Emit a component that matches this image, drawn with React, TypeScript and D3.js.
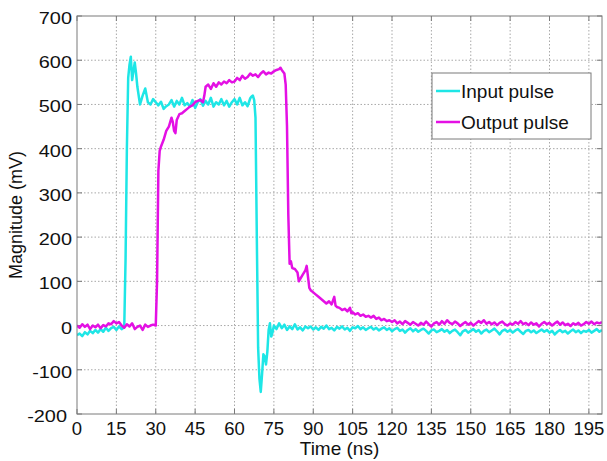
import React from "react";
import * as d3 from "d3";

const WIDTH = 607;
const HEIGHT = 461;

const xTicks = [0, 15, 30, 45, 60, 75, 90, 105, 120, 135, 150, 165, 180, 195];
const yTicks = [-200, -100, 0, 100, 200, 300, 400, 500, 600, 700];

const seriesNames = ["Input pulse", "Output pulse"];
const seriesColors = ["#1ee6e6", "#e410e4"];

// [time (ns), magnitude (mV)]
const inputPulse: [number, number][] = [
  [0, -22], [1, -18], [2, -24], [3, -15], [4, -20], [5, -12], [6, -17], [7, -10], [8, -16], [9, -8],
  [10, -14], [11, -5], [12, -12], [13, -6], [14, -3], [15, -10], [16, -2], [17, -8], [18, -4],
  [18.5, 150], [19, 400], [19.5, 560], [20, 590], [20.5, 608], [21, 555], [21.5, 575], [22, 595],
  [22.5, 570], [23, 540], [24, 500], [24.5, 510], [25, 520], [26, 536], [27, 505], [28, 500],
  [29, 512], [30, 505], [31, 498], [32, 506], [33, 490], [34, 496], [35, 500], [36, 510], [37, 495],
  [38, 508], [39, 500], [40, 515], [41, 498], [42, 503], [43, 495], [44, 510], [45, 492], [46, 505],
  [47, 512], [48, 497], [49, 508], [50, 500], [51, 515], [52, 495], [53, 505], [54, 500], [55, 512],
  [56, 498], [57, 508], [58, 495], [59, 505], [60, 512], [61, 500], [62, 515], [63, 498], [64, 505],
  [65, 496], [66, 514], [66.5, 518], [67, 520], [67.5, 510], [68, 470], [68.5, 200], [69, -50],
  [69.5, -120], [70, -150], [70.5, -110], [71, -65], [71.5, -70], [72, -88], [72.5, -60], [73, -10],
  [73.5, 5], [74, -25], [74.5, -15], [75, 0], [76, -8], [77, 5], [78, -6], [79, 2], [80, -10],
  [81, -2], [82, -8], [83, 3], [84, -9], [85, -4], [86, -11], [87, -2], [88, -6], [89, -2], [90, -9],
  [91, -4], [92, -10], [93, -3], [94, -7], [95, 0], [96, -8], [97, -5], [98, -11], [99, -3], [100, -7],
  [101, -2], [102, -9], [103, -5], [104, -12], [105, -4], [106, -6], [107, -1], [108, -8], [109, -4],
  [110, -10], [111, -6], [112, -3], [113, -9], [114, -5], [115, -11], [116, -7], [117, -4], [118, -10],
  [119, -6], [120, -13], [121, -8], [122, -5], [123, -12], [124, -9], [125, -16], [126, -10], [127, -6],
  [128, -13], [129, -8], [130, -14], [131, -10], [132, -7], [133, -12], [134, -18], [135, -11],
  [136, -9], [137, -15], [138, -12], [139, -8], [140, -14], [141, -10], [142, -17], [143, -12],
  [144, -9], [145, -15], [146, -22], [147, -13], [148, -10], [149, -16], [150, -12], [151, -8],
  [152, -14], [153, -10], [154, -18], [155, -12], [156, -9], [157, -15], [158, -11], [159, -7],
  [160, -13], [161, -20], [162, -12], [163, -9], [164, -14], [165, -10], [166, -16], [167, -11],
  [168, -8], [169, -14], [170, -19], [171, -12], [172, -10], [173, -15], [174, -11], [175, -17],
  [176, -13], [177, -9], [178, -14], [179, -10], [180, -16], [181, -12], [182, -20], [183, -14],
  [184, -10], [185, -15], [186, -12], [187, -18], [188, -13], [189, -9], [190, -15], [191, -11],
  [192, -17], [193, -12], [194, -14], [195, -10], [196, -16], [197, -12], [198, -8], [199, -14],
  [200, -10],
];

const outputPulse: [number, number][] = [
  [0, 0], [1, -5], [2, 3], [3, -3], [4, 2], [5, -8], [6, 0], [7, -4], [8, 2], [9, -6], [10, 1],
  [11, -2], [12, 5], [13, 3], [14, 10], [15, 5], [16, 8], [17, 0], [18, -5], [19, 3], [20, -2],
  [21, 5], [22, -8], [23, -3], [24, 0], [25, -10], [26, 2], [27, -3], [28, 0], [29, 2], [30, 0],
  [30.5, 100], [31, 350], [31.5, 395], [32, 405], [33, 420], [34, 440], [35, 450], [36, 470],
  [36.5, 460], [37, 440], [37.5, 435], [38, 465], [39, 478], [40, 480], [41, 485], [42, 490],
  [43, 495], [44, 498], [45, 505], [46, 508], [47, 510], [48, 505], [48.5, 520], [49, 540],
  [50, 545], [51, 535], [52, 548], [53, 540], [54, 550], [55, 545], [56, 552], [57, 548], [58, 555],
  [59, 550], [60, 552], [61, 560], [62, 555], [63, 565], [64, 558], [65, 562], [66, 570], [67, 565],
  [68, 568], [69, 562], [70, 570], [71, 575], [72, 568], [73, 572], [74, 570], [75, 575], [76, 578],
  [77, 580], [77.5, 583], [78, 578], [79, 570], [79.5, 545], [80, 450], [80.5, 250], [81, 140],
  [81.5, 145], [82, 130], [83, 128], [84, 120], [84.5, 100], [85, 105], [86, 115], [87, 125],
  [87.5, 135], [88, 110], [88.5, 85], [89, 80], [90, 75], [91, 70], [92, 65], [93, 60], [94, 55],
  [95, 50], [96, 55], [97, 48], [98, 65], [98.5, 45], [99, 42], [100, 40], [101, 35], [102, 38],
  [103, 32], [104, 40], [104.5, 28], [105, 30], [106, 25], [107, 28], [108, 22], [109, 25],
  [110, 20], [111, 22], [112, 18], [113, 22], [114, 15], [115, 18], [116, 12], [117, 15], [118, 10],
  [119, 12], [120, 8], [121, 12], [122, 5], [123, 9], [124, 3], [125, 10], [126, 6], [127, 2],
  [128, 8], [129, 4], [130, 0], [131, 6], [132, 2], [133, 9], [134, 3], [135, -2], [136, 5],
  [137, 8], [138, 2], [139, 10], [140, 4], [141, 12], [142, 6], [143, 3], [144, 9], [145, 5],
  [146, -1], [147, 4], [148, 8], [149, 2], [150, 6], [151, 0], [152, 5], [153, 10], [154, 6],
  [155, 12], [156, 4], [157, 8], [158, 3], [159, 7], [160, 1], [161, 6], [162, 9], [163, 3],
  [164, 0], [165, 5], [166, 2], [167, 8], [168, 4], [169, 10], [170, 3], [171, 6], [172, 1],
  [173, 7], [174, 2], [175, 5], [176, -2], [177, 4], [178, 8], [179, 3], [180, 6], [181, 0],
  [182, 5], [183, 9], [184, 2], [185, 7], [186, 1], [187, 4], [188, -1], [189, 5], [190, 2],
  [191, 6], [192, 0], [193, 3], [194, 8], [195, 4], [196, 9], [197, 3], [198, 7], [199, 5],
  [200, 8],
];

const FONT = "'Liberation Sans', Arial, Helvetica, sans-serif";

export default function App() {
  const plot = { left: 77, top: 16, right: 602, bottom: 414 };
  const x = d3.scaleLinear().domain([0, 200]).range([plot.left, plot.right]);
  const y = d3.scaleLinear().domain([-200, 700]).range([plot.bottom, plot.top]);

  const line = d3
    .line<[number, number]>()
    .x((d) => x(d[0]))
    .y((d) => y(d[1]));

  const series = [inputPulse, outputPulse];
  const tickLen = 5;
  const axisColor = "#7a7a7a";
  const gridColor = "#a8a8a8";

  const legend = { x: 432, y: 73, w: 159, h: 66 };

  return (
    <svg
      width={WIDTH}
      height={HEIGHT}
      style={{ position: "absolute", left: 0, top: 0, background: "#fff" }}
    >
      <rect x={0} y={0} width={WIDTH} height={HEIGHT} fill="#fff" />

      {/* grid */}
      {xTicks
        .filter((t) => t > 0)
        .map((t) => (
          <line
            key={`gx${t}`}
            x1={x(t)}
            x2={x(t)}
            y1={plot.top}
            y2={plot.bottom}
            stroke={gridColor}
            strokeWidth={1}
            strokeDasharray="1.5,2"
          />
        ))}
      {yTicks
        .filter((t) => t > -200 && t < 700)
        .map((t) => (
          <line
            key={`gy${t}`}
            x1={plot.left}
            x2={plot.right}
            y1={y(t)}
            y2={y(t)}
            stroke={gridColor}
            strokeWidth={1}
            strokeDasharray="1.5,2"
          />
        ))}

      {/* tick marks */}
      {xTicks.map((t) => (
        <g key={`tx${t}`} stroke={axisColor}>
          <line x1={x(t)} x2={x(t)} y1={plot.bottom} y2={plot.bottom - tickLen} />
          <line x1={x(t)} x2={x(t)} y1={plot.top} y2={plot.top + tickLen} />
        </g>
      ))}
      {yTicks.map((t) => (
        <g key={`ty${t}`} stroke={axisColor}>
          <line x1={plot.left} x2={plot.left + tickLen} y1={y(t)} y2={y(t)} />
          <line x1={plot.right} x2={plot.right - tickLen} y1={y(t)} y2={y(t)} />
        </g>
      ))}

      {/* data */}
      <defs>
        <clipPath id="plotClip">
          <rect
            x={plot.left}
            y={plot.top}
            width={plot.right - plot.left}
            height={plot.bottom - plot.top}
          />
        </clipPath>
      </defs>
      <g clipPath="url(#plotClip)">
        {series.map((s, i) => (
          <path
            key={seriesNames[i]}
            d={line(s) ?? ""}
            fill="none"
            stroke={seriesColors[i]}
            strokeWidth={2.5}
            strokeLinejoin="round"
          />
        ))}
      </g>

      {/* axes box */}
      <rect
        x={plot.left}
        y={plot.top}
        width={plot.right - plot.left}
        height={plot.bottom - plot.top}
        fill="none"
        stroke={axisColor}
        strokeWidth={1}
      />

      {/* tick labels */}
      {yTicks.map((t) => (
        <text
          key={`ly${t}`}
          transform={`translate(${t === -200 ? 67 : 72},${y(t) + 8}) scale(1.17,1)`}
          textAnchor="end"
          fontFamily={FONT}
          fontSize={17}
          fill="#111"
        >
          {t}
        </text>
      ))}
      {xTicks.map((t) => (
        <text
          key={`lx${t}`}
          x={x(t)}
          y={435}
          textAnchor="middle"
          fontFamily={FONT}
          fontSize={18.5}
          fill="#111"
        >
          {t}
        </text>
      ))}

      {/* axis titles */}
      <text
        x={(plot.left + plot.right) / 2}
        y={455}
        textAnchor="middle"
        fontFamily={FONT}
        fontSize={19}
        fill="#111"
      >
        Time (ns)
      </text>
      <text
        transform={`translate(22,${(plot.top + plot.bottom) / 2}) rotate(-90)`}
        textAnchor="middle"
        fontFamily={FONT}
        fontSize={18}
        fill="#111"
      >
        Magnitude (mV)
      </text>

      {/* legend */}
      <rect
        x={legend.x}
        y={legend.y}
        width={legend.w}
        height={legend.h}
        fill="#fff"
        stroke={axisColor}
        strokeWidth={1}
      />
      {seriesNames.map((name, i) => {
        const ly = legend.y + 18 + i * 31;
        return (
          <g key={`lg${name}`}>
            <line
              x1={legend.x + 4}
              x2={legend.x + 28}
              y1={ly}
              y2={ly}
              stroke={seriesColors[i]}
              strokeWidth={2.5}
            />
            <text
              x={legend.x + 29}
              y={ly + 7}
              fontFamily={FONT}
              fontSize={19}
              fill="#111"
            >
              {name}
            </text>
          </g>
        );
      })}
    </svg>
  );
}
